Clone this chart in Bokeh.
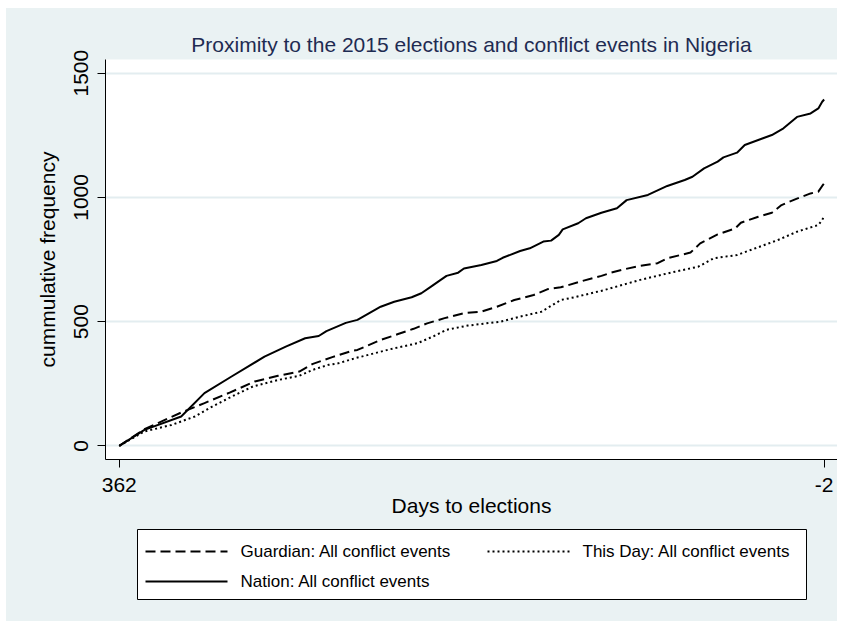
from bokeh.plotting import figure
from bokeh.models import Range1d, FixedTicker, Spacer
from bokeh.layouts import column, row
from bokeh.core.properties import value
from bokeh.embed import file_html
from bokeh.resources import INLINE

# Cumulative counts of conflict events by days remaining to the 2015 elections
nation_days = [362, 349, 330, 318, 304, 287, 276, 266, 259, 255, 245, 239, 227, 220, 211,
               206, 201, 196, 193, 187, 184, 175, 167, 164, 155, 150, 143, 139, 135, 133,
               125, 121, 113, 105, 100, 89, 79, 70, 66, 60, 53, 50, 43, 39, 25, 19, 12, 5,
               1, -1, -2]
nation_vals = [0, 64, 118, 212, 279, 359, 399, 433, 442, 462, 495, 507, 560, 580, 598,
               614, 641, 668, 684, 697, 714, 728, 744, 757, 784, 795, 822, 826, 849, 871,
               896, 916, 938, 956, 989, 1010, 1046, 1070, 1083, 1117, 1144, 1161, 1180,
               1211, 1251, 1278, 1324, 1338, 1358, 1385, 1394]

guardian_days = [362, 349, 330, 318, 305, 292, 280, 269, 262, 252, 242, 239, 227, 218,
                 210, 203, 194, 184, 175, 167, 158, 148, 141, 134, 124, 113, 108, 101, 93,
                 84, 79, 67, 62, 53, 44, 41, 32, 25, 20, 13, 5, 1, -1, -2]
guardian_vals = [0, 67, 134, 172, 214, 259, 282, 299, 330, 357, 382, 386, 426, 450, 471,
                 493, 514, 534, 540, 560, 587, 607, 630, 638, 661, 684, 697, 711, 724, 735,
                 755, 778, 815, 851, 875, 898, 922, 938, 969, 992, 1016, 1023, 1046, 1056]

thisday_days = [362, 349, 335, 323, 314, 304, 293, 280, 269, 262, 254, 249, 240, 222, 208,
                200, 193, 182, 165, 155, 144, 134, 127, 112, 93, 75, 63, 55, 43, 36, 22,
                12, 1, -1, -2]
thisday_vals = [0, 58, 84, 118, 158, 198, 239, 265, 282, 306, 326, 332, 353, 389, 413,
                440, 467, 484, 500, 520, 540, 587, 598, 626, 668, 701, 721, 755, 768, 788,
                828, 862, 889, 909, 925]

series_labels = ["Guardian: All conflict events", "This Day: All conflict events",
                 "Nation: All conflict events"]
series_dash = ["10 5", "2 3", "solid"]

x_ticks = [362, -2]
y_ticks = [0, 500, 1000, 1500]

BG = "#EAF2F3"
GRID = "#E3EDF0"
FONT = "Liberation Sans"
LEFT, WIDTH = 99, 831

# ---- main chart -------------------------------------------------------------
p = figure(width=WIDTH, height=512, output_backend="svg", toolbar_location=None,
           x_range=Range1d(369.1, -8.9), y_range=Range1d(-55, 1555),
           min_border_left=LEFT, min_border_right=0, min_border_top=51,
           min_border_bottom=61, background_fill_color="white",
           border_fill_color=BG, outline_line_color=None)

p.title.text = "Proximity to the 2015 elections and conflict events in Nigeria"
p.title.align = "center"
p.title.text_font = FONT
p.title.text_font_size = "21px"
p.title.text_font_style = "normal"
p.title.text_color = "#1E2B52"
p.title.standoff = 7

p.line(guardian_days, guardian_vals, line_color="black", line_width=2,
       line_dash=series_dash[0])
p.line(thisday_days, thisday_vals, line_color="black", line_width=2,
       line_dash=series_dash[1])
p.line(nation_days, nation_vals, line_color="black", line_width=2)

for ax in (p.xaxis[0], p.yaxis[0]):
    ax.axis_line_color = "black"
    ax.axis_line_width = 1
    ax.major_tick_out = 8
    ax.major_tick_in = 0
    ax.major_tick_line_color = "black"
    ax.minor_tick_line_color = None
    ax.major_label_text_font = FONT
    ax.major_label_text_font_size = "21px"
    ax.major_label_text_color = "black"
    ax.axis_label_text_font = FONT
    ax.axis_label_text_font_size = "21px"
    ax.axis_label_text_font_style = "normal"
    ax.axis_label_text_color = "black"

p.xaxis.ticker = FixedTicker(ticks=x_ticks)
p.xaxis.major_label_overrides = {t: str(t) for t in x_ticks}
p.xaxis.axis_label = "Days to elections"
p.xaxis.major_label_standoff = 10
p.xaxis.axis_label_standoff = -1

p.yaxis.ticker = FixedTicker(ticks=y_ticks)
p.yaxis.major_label_orientation = "vertical"
p.yaxis.axis_label = "cummulative frequency"
p.yaxis.major_label_standoff = 9
p.yaxis.axis_label_standoff = 13

p.xgrid.visible = False
p.ygrid.grid_line_color = GRID
p.ygrid.grid_line_width = 2

# ---- legend strip (pixel units, same horizontal frame as the chart) ----------
LH = 101
FW = WIDTH - LEFT
leg = figure(width=WIDTH, height=LH, output_backend="svg", toolbar_location=None,
             x_range=Range1d(0, FW), y_range=Range1d(0, LH),
             x_axis_type=None, y_axis_type=None,
             min_border_left=LEFT, min_border_right=0,
             min_border_top=0, min_border_bottom=0,
             background_fill_color=BG, border_fill_color=BG, outline_line_color=None)
leg.xgrid.visible = False
leg.ygrid.visible = False

leg.quad(left=[32], right=[701], bottom=[22], top=[92], fill_color="white",
         line_color="black", line_width=1)

slots = [(40, 70), (382, 70), (40, 40)]   # (left, row centre) of each key
for (sx, sy), lab, dash in zip(slots, series_labels, series_dash):
    leg.line([sx, sx + 82], [sy, sy], line_color="black", line_width=2, line_dash=dash)
    leg.text(x=[sx + 95], y=[sy], text=[lab], text_baseline="middle",
             text_align="left", text_font=value(FONT), text_font_size="17px",
             text_color="black")

chart = column(p, leg, styles={"background-color": BG})
page = column(Spacer(height=8), row(Spacer(width=6), chart))

with open("out.html", "w") as f:
    f.write(file_html(page, INLINE))
